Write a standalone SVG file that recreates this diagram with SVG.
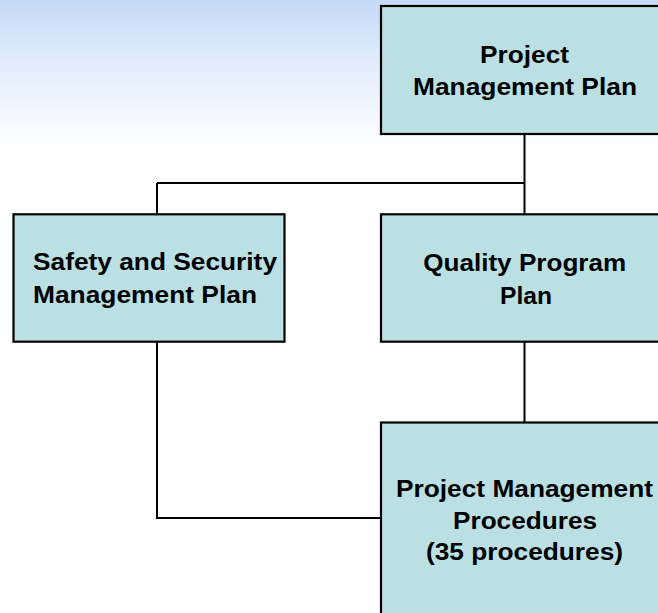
<svg xmlns="http://www.w3.org/2000/svg" width="658" height="613" viewBox="0 0 658 613">
  <defs>
    <linearGradient id="bg" x1="0" y1="0" x2="0" y2="1">
      <stop offset="0" stop-color="#C4DAF8"/>
      <stop offset="0.35" stop-color="#DDEAFC"/>
      <stop offset="0.7" stop-color="#F1F6FE"/>
      <stop offset="1" stop-color="#FFFFFF"/>
    </linearGradient>
    <style>
      .box { fill: #BAE0E3; stroke: #000000; stroke-width: 2.2; }
      .conn { fill: none; stroke: #000000; stroke-width: 2; }
      .lbl { font-family: "Liberation Sans", Arial, sans-serif; font-weight: bold; font-size: 23.5px; fill: #000000; }
      .c { text-anchor: middle; }
    </style>
  </defs>
  <rect x="0" y="0" width="658" height="613" fill="#FFFFFF"/>
  <rect x="0" y="0" width="658" height="152" fill="url(#bg)"/>

  <g id="connectors">
    <path class="conn" d="M524.5,134 V214.3"/>
    <path class="conn" d="M157,183 H524.5"/>
    <path class="conn" d="M157,183 V214.3"/>
    <path class="conn" d="M524.5,341.7 V422.5"/>
    <path class="conn" d="M157,341.7 V518 H381"/>
  </g>

  <g id="project-management-plan">
    <rect class="box" x="381" y="6" width="300" height="128"/>
    <text class="lbl c" x="524.5" y="62.7" textLength="89" lengthAdjust="spacingAndGlyphs">Project</text>
    <text class="lbl c" x="525" y="95" textLength="224" lengthAdjust="spacingAndGlyphs">Management Plan</text>
  </g>

  <g id="safety-security-plan">
    <rect class="box" x="13.5" y="214.3" width="271" height="127.4"/>
    <text class="lbl" x="33" y="270" textLength="244" lengthAdjust="spacingAndGlyphs">Safety and Security</text>
    <text class="lbl" x="33" y="302.7" textLength="224" lengthAdjust="spacingAndGlyphs">Management Plan</text>
  </g>

  <g id="quality-program-plan">
    <rect class="box" x="381" y="214.3" width="300" height="127.4"/>
    <text class="lbl c" x="524.7" y="271" textLength="203" lengthAdjust="spacingAndGlyphs">Quality Program</text>
    <text class="lbl c" x="526" y="304" textLength="52" lengthAdjust="spacingAndGlyphs">Plan</text>
  </g>

  <g id="project-management-procedures">
    <rect class="box" x="381" y="422.5" width="300" height="220"/>
    <text class="lbl c" x="524.5" y="497" textLength="257" lengthAdjust="spacingAndGlyphs">Project Management</text>
    <text class="lbl c" x="525" y="528.5" textLength="144" lengthAdjust="spacingAndGlyphs">Procedures</text>
    <text class="lbl c" x="524.5" y="560" textLength="197" lengthAdjust="spacingAndGlyphs">(35 procedures)</text>
  </g>
</svg>
